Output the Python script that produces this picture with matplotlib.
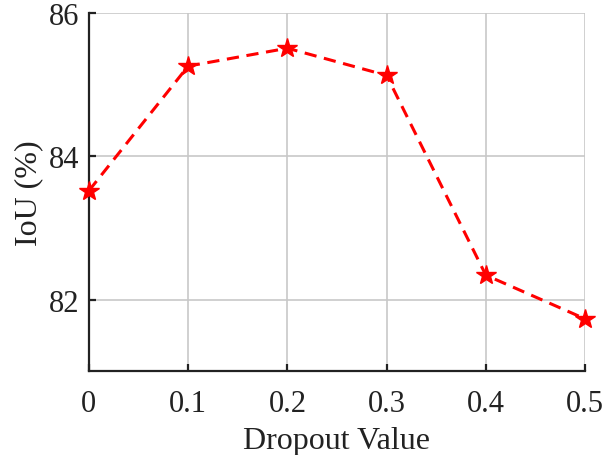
import matplotlib
matplotlib.use("Agg")
import matplotlib.pyplot as plt

# data
dropout = [0, 0.1, 0.2, 0.3, 0.4, 0.5]
iou = [83.52, 85.26, 85.51, 85.13, 82.34, 81.73]
xtick_labels = ['0', '0.1', '0.2', '0.3', '0.4', '0.5']
ytick_vals = [82, 84, 86]

plt.rcParams['font.family'] = ['Liberation Serif', 'DejaVu Serif']

fig = plt.figure(figsize=(6.05, 4.56), dpi=100)
ax = fig.add_axes([0.147, 0.184, 0.82, 0.785])

ax.plot(dropout, iou, color='#ff0000', linestyle=(0, (4, 2.5)), linewidth=2.2,
        marker='*', markersize=15, clip_on=False, zorder=3)

ax.set_xlim(0, 0.5)
ax.set_ylim(81, 86)
ax.set_xticks(dropout)
ax.set_xticklabels(xtick_labels)
ax.set_yticks(ytick_vals)

ax.grid(True, color='#c8c8c8', linewidth=1.2)
ax.set_axisbelow(True)

for s in ['top', 'right']:
    ax.spines[s].set_visible(False)
for s in ['left', 'bottom']:
    ax.spines[s].set_linewidth(1.6)
    ax.spines[s].set_color('#222222')

ax.tick_params(direction='in', length=5, width=1.6, labelsize=22,
               colors='#222222')
ax.tick_params(axis='x', pad=13)
ax.tick_params(axis='y', pad=7)

ax.set_xlabel('Dropout Value', fontsize=23, color='#222222', labelpad=6)
ax.set_ylabel('IoU (%)', fontsize=23, color='#222222', labelpad=4)

fig.savefig('out.png', dpi=100)
